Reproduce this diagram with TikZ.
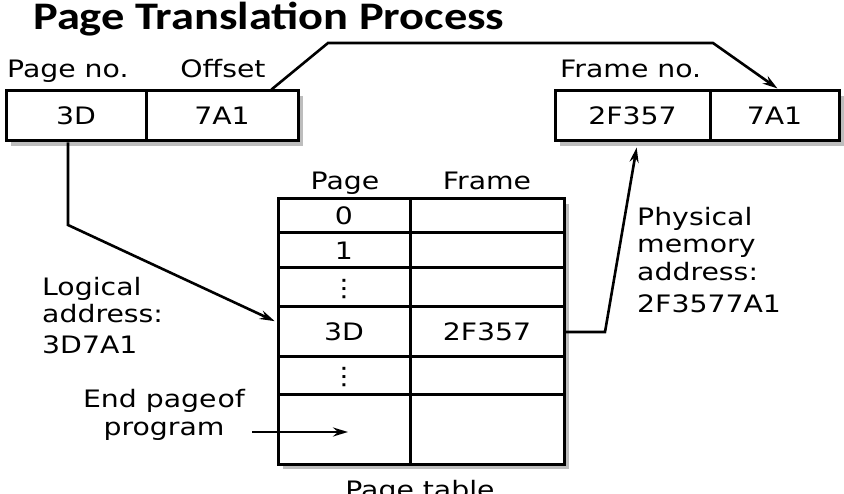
\documentclass[tikz,border=0pt]{standalone}
\usepackage{fontspec}
\setmainfont{DejaVu Sans}[FakeStretch=1.18]
\newfontfamily\titlefont{Carlito}[FakeStretch=1.19]
\usetikzlibrary{arrows.meta,calc}
\definecolor{shadowgray}{HTML}{BDBDBD}
\tikzset{
  txt/.style={inner sep=0pt, font=\fontsize{24}{27}\selectfont},
  cell/.style={draw, fill=white, line width=3pt, inner sep=0pt, text height=17.5pt, text depth=0pt,
    font=\fontsize{24}{27}\selectfont},
  conn/.style={line width=2.6pt, line join=miter},
  arr/.style={conn, -{Stealth[length=15pt, width=9pt, inset=5pt]}},
  shade/.style={fill=shadowgray, draw=none}
}
\begin{document}
\begin{tikzpicture}[x=1pt,y=-1pt]
\useasboundingbox (0,0) rectangle (844,494);
\clip (0,0) rectangle (844,494);
% title
\node[anchor=base west, inner sep=0pt, font=\titlefont\bfseries\fontsize{39}{39}\selectfont] (title) at (33,30) {Page Translation Process};

% shadows
\fill[shade] (11,96) rectangle (303,146);
\fill[shade] (560,96) rectangle (844,146);
\fill[shade] (283,204) rectangle (569,469);

% logical address box
\node[anchor=base west, txt] (lpn) at (7,78) {Page no.};
\node[anchor=base, txt] (loff) at (223,78) {Offset};
\node[cell, minimum width=140pt, minimum height=50pt] (pn) at (76,116) {3D};
\node[cell, minimum width=152pt, minimum height=50pt] (off) at (222,116) {7A1};

% physical address box
\node[anchor=base west, txt] (lfn) at (560,78) {Frame no.};
\node[cell, minimum width=155pt, minimum height=50pt] (fn) at (632.5,116) {2F357};
\node[cell, minimum width=129pt, minimum height=50pt] (fo) at (774.5,116) {7A1};

% page table
\node[anchor=base, txt] (hpg) at (345,190) {Page};
\node[anchor=base, txt] (hfr) at (487,190) {Frame};
\node[cell, minimum width=132pt, minimum height=34pt] (pg0) at (344,216) {0};
\node[cell, minimum width=154pt, minimum height=34pt] (fr0) at (487,216) {};
\node[cell, minimum width=132pt, minimum height=35pt] (pg1) at (344,250.5) {1};
\node[cell, minimum width=154pt, minimum height=35pt] (fr1) at (487,250.5) {};
\node[cell, minimum width=132pt, minimum height=39pt] (pg2) at (344,287.5) {⋮};
\node[cell, minimum width=154pt, minimum height=39pt] (fr2) at (487,287.5) {};
\node[cell, minimum width=132pt, minimum height=50pt] (pg3) at (344,332) {3D};
\node[cell, minimum width=154pt, minimum height=50pt] (fr3) at (487,332) {2F357};
\node[cell, minimum width=132pt, minimum height=38pt] (pg4) at (344,376) {⋮};
\node[cell, minimum width=154pt, minimum height=38pt] (fr4) at (487,376) {};
\node[cell, minimum width=132pt, minimum height=69pt] (pg5) at (344,429.5) {};
\node[cell, minimum width=154pt, minimum height=69pt] (fr5) at (487,429.5) {};
\node[anchor=base, txt] (ptab) at (420,498) {Page table};

% side labels
\node[anchor=north west, txt, align=left] (logl) at (42,277) {Logical\\address:\\[4pt]3D7A1};
\node[anchor=north west, txt, align=left, font=\fontsize{24}{27.5}\selectfont] (phys) at (637,207) {Physical\\memory\\address:\\[5pt]2F3577A1};
\node[anchor=north, txt, align=center, font=\fontsize{24}{28}\selectfont] (endp) at (164,389) {End page\kern1pt of\\program};

% connectors
\coordinate (b1) at (328,43);
\coordinate (b2) at (713,43);
\draw[arr] ([xshift=-28pt]off.north east) -- (b1) -- (b2) -- ([xshift=3pt,yshift=1pt]fo.north);

\coordinate (b3) at (68,225);
\draw[arr, shorten >=2pt] ([xshift=-8pt]pn.south) -- (b3) -- ([yshift=10pt]pg3.west);

\coordinate (b4) at (605,332);
\draw[arr, shorten >=5pt] (fr3.east) -- (b4) -- ([xshift=5pt]fn.south);

\coordinate (ep1) at (252,432);
\coordinate (ep2) at (348,432);
\draw[arr] (ep1) -- (ep2);
\end{tikzpicture}
\end{document}
